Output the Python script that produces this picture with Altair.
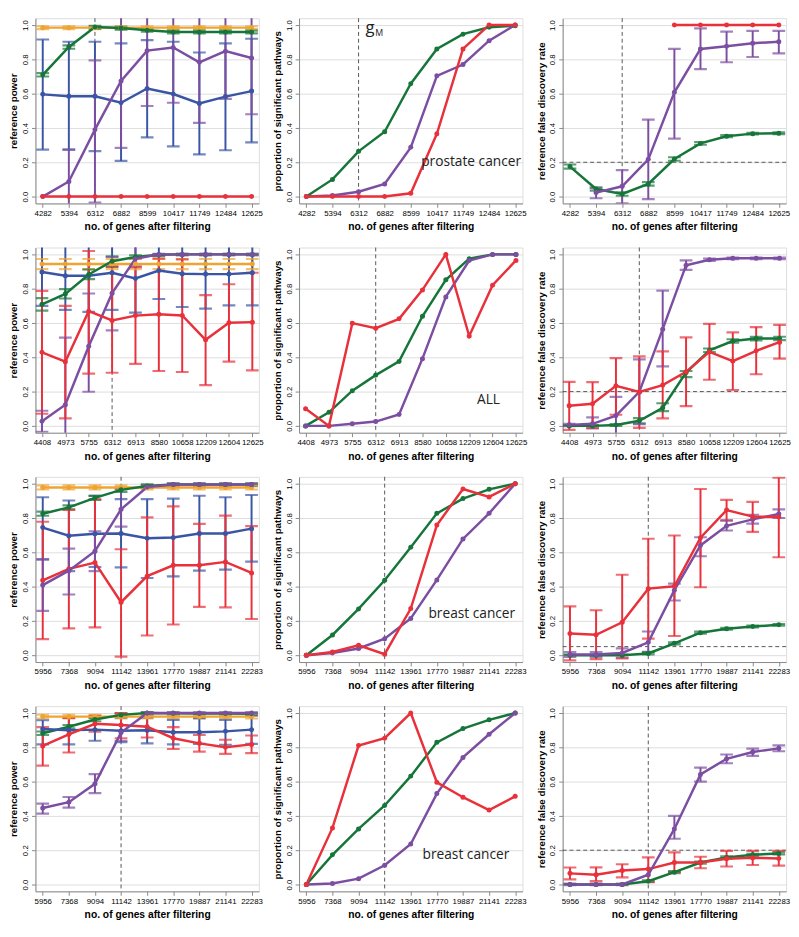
import math
import altair as alt
import pandas as pd

# ---------------- x categories ----------------
x_prostate = ["4282", "5394", "6312", "6882", "8599", "10417", "11749", "12484", "12625"]
x_all = ["4408", "4973", "5755", "6312", "6913", "8580", "10658", "12209", "12604", "12625"]
x_breast = ["5956", "7368", "9094", "11142", "13961", "17770", "19887", "21141", "22283"]
gm_prostate = "6312"
gm_all = "6312"
gm_breast = "11142"

# ---------------- row 1: prostate cancer ----------------
pr_pow_orange = [0.985, 0.985, 0.985, 0.985, 0.985, 0.985, 0.985, 0.985, 0.985]
pr_pow_orange_lo = [0.976, 0.976, 0.976, 0.976, 0.976, 0.976, 0.976, 0.976, 0.976]
pr_pow_orange_hi = [0.993, 0.993, 0.993, 0.993, 0.993, 0.993, 0.993, 0.993, 0.993]
pr_pow_blue = [0.596, 0.585, 0.585, 0.547, 0.630, 0.598, 0.543, 0.583, 0.615]
pr_pow_blue_lo = [0.274, 0.274, 0.265, 0.208, 0.345, 0.293, 0.246, 0.270, 0.316]
pr_pow_blue_hi = [0.916, 0.903, 0.903, 0.893, 0.912, 0.903, 0.840, 0.893, 0.920]
pr_pow_green = [0.710, 0.872, 0.989, 0.983, 0.970, 0.960, 0.960, 0.960, 0.960]
pr_pow_green_lo = [0.700, 0.862, 0.979, 0.973, 0.962, 0.952, 0.952, 0.952, 0.952]
pr_pow_green_hi = [0.720, 0.882, 0.995, 0.990, 0.978, 0.968, 0.968, 0.968, 0.968]
pr_pow_purple = [0.000, 0.088, 0.390, 0.674, 0.851, 0.869, 0.783, 0.848, 0.808]
pr_pow_purple_lo = [None, -0.100, -0.035, 0.284, 0.528, 0.547, 0.430, 0.570, 0.480]
pr_pow_purple_hi = [None, 0.274, 0.794, 1.100, 1.170, 1.190, 1.140, 1.130, 1.140]
pr_pow_red = [0.0, 0.0, 0.0, 0.0, 0.0, 0.0, 0.0, 0.0, 0.0]

pr_sig_green = [0.0, 0.100, 0.264, 0.378, 0.658, 0.861, 0.947, 0.987, 0.996]
pr_sig_purple = [0.0, 0.006, 0.028, 0.074, 0.287, 0.704, 0.770, 0.909, 1.0]
pr_sig_red = [0.0, 0.0, 0.0, 0.0, 0.019, 0.366, 0.861, 1.0, 1.0]

pr_fdr_green = [0.175, 0.044, 0.015, 0.074, 0.219, 0.310, 0.352, 0.367, 0.369]
pr_fdr_green_lo = [0.163, 0.034, 0.005, 0.064, 0.209, 0.302, 0.346, 0.362, 0.364]
pr_fdr_green_hi = [0.187, 0.054, 0.025, 0.084, 0.229, 0.318, 0.358, 0.372, 0.374]
pr_fdr_purple = [None, 0.023, 0.060, 0.217, 0.608, 0.861, 0.876, 0.894, 0.903]
pr_fdr_purple_lo = [None, -0.010, -0.040, -0.015, 0.338, 0.743, 0.783, 0.814, 0.835]
pr_fdr_purple_hi = [None, 0.048, 0.154, 0.449, 0.861, 0.981, 0.962, 0.966, 0.966]
pr_fdr_red = [None, None, None, None, 1.0, 1.0, 1.0, 1.0, 1.0]

# ---------------- row 2: ALL ----------------
al_pow_orange = [0.944, 0.944, 0.944, 0.944, 0.944, 0.944, 0.944, 0.944, 0.944, 0.944]
al_pow_orange_lo = [0.914, 0.914, 0.914, 0.914, 0.914, 0.914, 0.914, 0.914, 0.914, 0.914]
al_pow_orange_hi = [0.973, 0.973, 0.973, 0.973, 0.973, 0.973, 0.973, 0.973, 0.973, 0.973]
al_pow_blue = [0.897, 0.876, 0.876, 0.893, 0.860, 0.906, 0.887, 0.885, 0.885, 0.893]
al_pow_blue_lo = [0.700, 0.676, 0.665, 0.676, 0.660, 0.740, 0.693, 0.684, 0.703, 0.703]
al_pow_blue_hi = [1.090, 1.080, 1.090, 1.110, 1.060, 1.070, 1.080, 1.090, 1.070, 1.080]
al_pow_green = [0.709, 0.770, 0.883, 0.960, 0.985, 0.998, 1.0, 1.0, 1.0, 1.0]
al_pow_green_lo = [0.672, 0.743, 0.856, 0.927, 0.975, 0.990, 0.995, 0.995, 0.995, 0.995]
al_pow_green_hi = [0.745, 0.797, 0.912, 0.988, 0.995, 1.002, 1.003, 1.003, 1.003, 1.003]
al_pow_purple = [0.027, 0.123, 0.464, 0.774, 0.975, 1.0, 1.0, 1.0, 1.0, 1.0]
al_pow_purple_lo = [-0.034, -0.270, 0.199, 0.557, 0.930, 0.995, 0.995, 0.995, 0.995, 0.995]
al_pow_purple_hi = [0.088, 0.515, 0.772, 0.985, 1.050, 1.003, 1.003, 1.003, 1.003, 1.003]
al_pow_red = [0.429, 0.374, 0.669, 0.615, 0.643, 0.651, 0.644, 0.502, 0.601, 0.605]
al_pow_red_lo = [0.071, 0.044, 0.305, 0.310, 0.362, 0.320, 0.314, 0.238, 0.375, 0.324]
al_pow_red_hi = [0.787, 0.700, 1.020, 0.930, 0.925, 0.975, 0.971, 0.762, 0.826, 0.893]

al_sig_green = [0.0, 0.079, 0.205, 0.296, 0.376, 0.639, 0.852, 0.975, 1.0, 1.0]
al_sig_red = [0.100, 0.0, 0.599, 0.570, 0.624, 0.793, 1.0, 0.524, 0.820, 0.965]
al_sig_purple = [0.0, 0.0, 0.012, 0.025, 0.067, 0.392, 0.752, 0.964, 1.0, 1.0]

al_fdr_purple = [0.006, 0.012, 0.060, 0.198, 0.564, 0.937, 0.969, 0.977, 0.977, 0.977]
al_fdr_purple_lo = [-0.002, -0.015, -0.050, 0.010, 0.347, 0.910, 0.962, 0.972, 0.972, 0.972]
al_fdr_purple_hi = [0.012, 0.050, 0.169, 0.388, 0.789, 0.965, 0.976, 0.982, 0.982, 0.982]
al_fdr_green = [0.0, 0.0, 0.005, 0.030, 0.106, 0.311, 0.441, 0.495, 0.509, 0.510]
al_fdr_green_lo = [0.0, 0.0, 0.0, 0.015, 0.086, 0.284, 0.431, 0.485, 0.499, 0.500]
al_fdr_green_hi = [0.005, 0.005, 0.010, 0.045, 0.132, 0.320, 0.451, 0.505, 0.519, 0.520]
al_fdr_red = [0.117, 0.129, 0.234, 0.198, 0.238, 0.315, 0.432, 0.378, 0.438, 0.488]
al_fdr_red_lo = [-0.023, -0.012, 0.065, -0.012, 0.044, 0.115, 0.269, 0.209, 0.301, 0.392]
al_fdr_red_hi = [0.257, 0.255, 0.395, 0.405, 0.434, 0.516, 0.595, 0.545, 0.576, 0.589]

# ---------------- row 3: breast cancer ----------------
b1_pow_orange = [0.978, 0.978, 0.978, 0.978, 0.978, 0.978, 0.978, 0.978, 0.978]
b1_pow_orange_lo = [0.966, 0.966, 0.966, 0.966, 0.966, 0.966, 0.966, 0.966, 0.966]
b1_pow_orange_hi = [0.990, 0.990, 0.990, 0.990, 0.990, 0.990, 0.990, 0.990, 0.990]
b1_pow_blue = [0.744, 0.697, 0.708, 0.710, 0.682, 0.686, 0.710, 0.710, 0.738]
b1_pow_blue_lo = [0.559, 0.490, 0.514, 0.512, 0.450, 0.460, 0.493, 0.499, 0.546]
b1_pow_blue_hi = [0.921, 0.902, 0.930, 0.910, 0.910, 0.913, 0.930, 0.921, 0.934]
b1_pow_green = [0.825, 0.862, 0.917, 0.964, 0.987, 0.995, 0.995, 0.995, 0.995]
b1_pow_green_lo = [0.813, 0.850, 0.905, 0.952, 0.977, 0.985, 0.985, 0.985, 0.985]
b1_pow_green_hi = [0.837, 0.874, 0.929, 0.976, 0.997, 1.002, 1.002, 1.002, 1.002]
b1_pow_purple = [0.409, 0.493, 0.606, 0.851, 0.981, 0.995, 0.995, 0.995, 0.995]
b1_pow_purple_lo = [0.258, 0.354, 0.490, 0.750, 0.975, 0.990, 0.990, 0.990, 0.990]
b1_pow_purple_hi = [0.559, 0.621, 0.723, 0.970, 0.990, 1.000, 1.000, 1.000, 1.000]
b1_pow_red = [0.437, 0.503, 0.540, 0.309, 0.461, 0.524, 0.525, 0.544, 0.480]
b1_pow_red_lo = [0.094, 0.156, 0.162, -0.008, 0.115, 0.179, 0.282, 0.279, 0.211]
b1_pow_red_hi = [0.778, 0.847, 0.910, 0.618, 0.804, 0.868, 0.766, 0.814, 0.753]

b1_sig_green = [0.0, 0.118, 0.270, 0.437, 0.630, 0.827, 0.913, 0.967, 1.0]
b1_sig_red = [0.0, 0.019, 0.058, 0.006, 0.272, 0.759, 0.969, 0.923, 1.0]
b1_sig_purple = [0.0, 0.013, 0.039, 0.096, 0.214, 0.439, 0.678, 0.827, 1.0]

b1_fdr_green = [0.0, 0.0, 0.0, 0.010, 0.069, 0.131, 0.154, 0.167, 0.177]
b1_fdr_green_lo = [0.0, 0.0, 0.0, 0.004, 0.063, 0.125, 0.149, 0.162, 0.172]
b1_fdr_green_hi = [0.004, 0.004, 0.004, 0.016, 0.075, 0.137, 0.159, 0.172, 0.182]
b1_fdr_purple = [0.004, 0.004, 0.013, 0.075, 0.379, 0.640, 0.754, 0.792, 0.823]
b1_fdr_purple_lo = [-0.010, -0.010, -0.015, 0.019, 0.319, 0.577, 0.727, 0.767, 0.800]
b1_fdr_purple_hi = [0.018, 0.018, 0.040, 0.138, 0.417, 0.688, 0.787, 0.819, 0.850]
b1_fdr_red = [0.127, 0.119, 0.192, 0.388, 0.402, 0.685, 0.846, 0.808, 0.806]
b1_fdr_red_lo = [-0.030, -0.023, -0.019, 0.097, 0.112, 0.396, 0.785, 0.719, 0.571]
b1_fdr_red_hi = [0.285, 0.262, 0.469, 0.679, 0.698, 0.969, 0.906, 0.894, 1.035]

# ---------------- row 4: breast cancer (second data set) ----------------
b2_pow_orange = [0.979, 0.979, 0.979, 0.979, 0.979, 0.979, 0.979, 0.979, 0.979]
b2_pow_orange_lo = [0.968, 0.968, 0.968, 0.968, 0.968, 0.968, 0.968, 0.968, 0.968]
b2_pow_orange_hi = [0.990, 0.990, 0.990, 0.990, 0.990, 0.990, 0.990, 0.990, 0.990]
b2_pow_blue = [0.907, 0.900, 0.903, 0.897, 0.899, 0.888, 0.888, 0.893, 0.903]
b2_pow_blue_lo = [0.817, 0.817, 0.838, 0.830, 0.823, 0.817, 0.820, 0.815, 0.820]
b2_pow_blue_hi = [0.958, 0.975, 0.980, 0.975, 0.975, 0.960, 0.970, 0.960, 0.985]
b2_pow_green = [0.882, 0.920, 0.962, 0.989, 1.0, 0.998, 0.997, 0.997, 0.996]
b2_pow_green_lo = [0.872, 0.910, 0.952, 0.980, 0.993, 0.991, 0.990, 0.990, 0.989]
b2_pow_green_hi = [0.892, 0.930, 0.972, 0.998, 1.005, 1.004, 1.003, 1.003, 1.003]
b2_pow_red = [0.808, 0.876, 0.937, 0.930, 0.920, 0.853, 0.823, 0.800, 0.817]
b2_pow_red_lo = [0.693, 0.770, 0.891, 0.853, 0.857, 0.790, 0.775, 0.762, 0.766]
b2_pow_red_hi = [0.918, 0.971, 0.983, 1.000, 0.981, 0.918, 0.872, 0.844, 0.869]
b2_pow_purple = [0.446, 0.480, 0.587, 0.886, 1.0, 1.0, 1.0, 1.0, 1.0]
b2_pow_purple_lo = [0.413, 0.448, 0.533, 0.838, 0.995, 0.995, 0.995, 0.995, 0.995]
b2_pow_purple_hi = [0.472, 0.510, 0.644, 0.930, 1.003, 1.003, 1.003, 1.003, 1.003]

b2_sig_red = [0.0, 0.330, 0.810, 0.853, 1.0, 0.596, 0.509, 0.434, 0.514]
b2_sig_green = [0.0, 0.173, 0.324, 0.461, 0.632, 0.829, 0.909, 0.960, 1.0]
b2_sig_purple = [0.0, 0.006, 0.034, 0.112, 0.236, 0.530, 0.741, 0.876, 1.0]

b2_fdr_green = [0.0, 0.0, 0.0, 0.019, 0.072, 0.128, 0.158, 0.173, 0.181]
b2_fdr_green_lo = [0.0, 0.0, 0.0, 0.013, 0.066, 0.122, 0.152, 0.167, 0.175]
b2_fdr_green_hi = [0.004, 0.004, 0.004, 0.025, 0.078, 0.134, 0.164, 0.179, 0.187]
b2_fdr_purple = [0.0, 0.0, 0.0, 0.057, 0.324, 0.642, 0.733, 0.773, 0.794]
b2_fdr_purple_lo = [-0.004, -0.004, -0.004, None, 0.267, 0.600, 0.707, 0.750, 0.777]
b2_fdr_purple_hi = [0.004, 0.004, 0.004, None, 0.400, 0.682, 0.758, 0.792, 0.811]
b2_fdr_red = [0.065, 0.057, 0.082, 0.090, 0.128, 0.128, 0.150, 0.156, 0.152]
b2_fdr_red_lo = [0.030, 0.020, 0.042, 0.015, 0.072, 0.095, 0.105, 0.114, 0.110]
b2_fdr_red_hi = [0.099, 0.100, 0.118, 0.158, 0.187, 0.162, 0.196, 0.196, 0.196]

# ---------------- styling ----------------
COLORS = {"orange": "#EFA430", "blue": "#3A55A4", "green": "#16763A",
          "purple": "#7C4EA1", "red": "#E8313B"}
FONT = "Liberation Sans"
PW, PH = 228, 189
NAN = float("nan")


def _v(lst, i):
    if lst is None:
        return NAN
    v = lst[i]
    return NAN if v is None else v


def panel(xcats, series, ytitle, gm, hline=None, notes=()):
    rows = []
    for name, mean, lo, hi in series:
        for i, xc in enumerate(xcats):
            rows.append({"x": xc, "i": i, "s": name, "m": _v(mean, i),
                         "lo": _v(lo, i), "hi": _v(hi, i)})
    df = pd.DataFrame(rows)

    xs = alt.Scale(type="point", domain=xcats, padding=0.28)
    ys = alt.Scale(domain=[-0.04, 1.04], nice=False, zero=False)
    xax = alt.Axis(title="no. of genes after filtering", labelAngle=0, labelFontSize=8,
                   tickSize=4, labelPadding=2, titleFontSize=10.5, titleFontWeight="bold",
                   titlePadding=5, labelOverlap=False)
    yax = alt.Axis(title=ytitle, values=[0, 0.2, 0.4, 0.6, 0.8, 1.0], format=".1f",
                   labelAngle=270, labelAlign="center", labelBaseline="bottom",
                   labelFontSize=8, tickSize=4, labelPadding=2, titleFontSize=10,
                   titleFontWeight="bold", titlePadding=3)
    X = alt.X("x:N", scale=xs, axis=xax)
    C = alt.Color("s:N", scale=alt.Scale(domain=list(COLORS.keys()),
                                         range=list(COLORS.values())), legend=None)

    layers = []
    layers.append(alt.Chart(pd.DataFrame({"x": [gm]})).mark_rule(
        strokeDash=[4, 3], color="#555555", strokeWidth=1).encode(x=X))
    if hline is not None:
        layers.append(alt.Chart(pd.DataFrame({"y": [hline]})).mark_rule(
            strokeDash=[4, 3], color="#555555", strokeWidth=1).encode(
            y=alt.Y("y:Q", scale=ys, axis=yax)))
    err = alt.Chart(df).transform_filter("isValid(datum.lo) && isFinite(datum.lo)")
    layers.append(err.mark_rule(strokeWidth=2, clip=True).encode(
        x=X, y=alt.Y("lo:Q", scale=ys, axis=yax), y2="hi:Q", color=C))
    for f in ("lo", "hi"):
        layers.append(err.mark_tick(orient="horizontal", size=13, thickness=2.2, clip=True).encode(
            x=X, y=alt.Y(f + ":Q", scale=ys, axis=yax), color=C))
    base = alt.Chart(df).transform_filter("isValid(datum.m) && isFinite(datum.m)")
    layers.append(base.mark_line(strokeWidth=2.5, clip=True).encode(
        x=X, y=alt.Y("m:Q", scale=ys, axis=yax), color=C, detail="s:N",
        order=alt.Order("i:Q")))
    layers.append(base.mark_circle(size=26, opacity=1, clip=True).encode(
        x=X, y=alt.Y("m:Q", scale=ys, axis=yax), color=C))
    for (nx, ny, txt, size, align, dx, dy, bl) in notes:
        layers.append(alt.Chart(pd.DataFrame({"x": [nx], "y": [ny], "t": [txt]})).mark_text(
            font="Open Sans", fontSize=size, align=align, baseline=bl, dx=dx, dy=dy,
            color="#222222").encode(x=X, y=alt.Y("y:Q", scale=ys, axis=yax), text="t:N"))
    return alt.layer(*layers).properties(width=PW, height=PH)


def S(name, mean, lo=None, hi=None):
    return (name, mean, lo, hi)


row1 = alt.hconcat(
    panel(x_prostate, [S("orange", pr_pow_orange, pr_pow_orange_lo, pr_pow_orange_hi),
                       S("green", pr_pow_green, pr_pow_green_lo, pr_pow_green_hi),
                       S("blue", pr_pow_blue, pr_pow_blue_lo, pr_pow_blue_hi),
                       S("purple", pr_pow_purple, pr_pow_purple_lo, pr_pow_purple_hi),
                       S("red", pr_pow_red)],
          "reference power", gm_prostate),
    panel(x_prostate, [S("green", pr_sig_green), S("purple", pr_sig_purple), S("red", pr_sig_red)],
          "proportion of significant pathways", gm_prostate,
          notes=[("6312", 1.028, "g", 17, "left", 7, 0, "top"),
                 ("6312", 0.977, "M", 9, "left", 17, 0, "top"),
                 ("12625", 0.2, "prostate cancer", 14, "right", 6, 0, "middle")]),
    panel(x_prostate, [S("green", pr_fdr_green, pr_fdr_green_lo, pr_fdr_green_hi),
                       S("purple", pr_fdr_purple, pr_fdr_purple_lo, pr_fdr_purple_hi),
                       S("red", pr_fdr_red)],
          "reference false discovery rate", gm_prostate, hline=0.2),
    spacing=8)

row2 = alt.hconcat(
    panel(x_all, [S("orange", al_pow_orange, al_pow_orange_lo, al_pow_orange_hi),
                  S("blue", al_pow_blue, al_pow_blue_lo, al_pow_blue_hi),
                  S("green", al_pow_green, al_pow_green_lo, al_pow_green_hi),
                  S("purple", al_pow_purple, al_pow_purple_lo, al_pow_purple_hi),
                  S("red", al_pow_red, al_pow_red_lo, al_pow_red_hi)],
          "reference power", gm_all),
    panel(x_all, [S("green", al_sig_green), S("purple", al_sig_purple), S("red", al_sig_red)],
          "proportion of significant pathways", gm_all,
          notes=[("12209", 0.15, "ALL", 14, "left", 8, 0, "middle")]),
    panel(x_all, [S("green", al_fdr_green, al_fdr_green_lo, al_fdr_green_hi),
                  S("purple", al_fdr_purple, al_fdr_purple_lo, al_fdr_purple_hi),
                  S("red", al_fdr_red, al_fdr_red_lo, al_fdr_red_hi)],
          "reference false discovery rate", gm_all, hline=0.2),
    spacing=8)

row3 = alt.hconcat(
    panel(x_breast, [S("orange", b1_pow_orange, b1_pow_orange_lo, b1_pow_orange_hi),
                     S("blue", b1_pow_blue, b1_pow_blue_lo, b1_pow_blue_hi),
                     S("green", b1_pow_green, b1_pow_green_lo, b1_pow_green_hi),
                     S("red", b1_pow_red, b1_pow_red_lo, b1_pow_red_hi),
                     S("purple", b1_pow_purple, b1_pow_purple_lo, b1_pow_purple_hi)],
          "reference power", gm_breast),
    panel(x_breast, [S("green", b1_sig_green), S("purple", b1_sig_purple), S("red", b1_sig_red)],
          "proportion of significant pathways", gm_breast,
          notes=[("22283", 0.24, "breast cancer", 14, "right", 0, 0, "middle")]),
    panel(x_breast, [S("green", b1_fdr_green, b1_fdr_green_lo, b1_fdr_green_hi),
                     S("purple", b1_fdr_purple, b1_fdr_purple_lo, b1_fdr_purple_hi),
                     S("red", b1_fdr_red, b1_fdr_red_lo, b1_fdr_red_hi)],
          "reference false discovery rate", gm_breast, hline=0.05),
    spacing=8)

row4 = alt.hconcat(
    panel(x_breast, [S("orange", b2_pow_orange, b2_pow_orange_lo, b2_pow_orange_hi),
                     S("green", b2_pow_green, b2_pow_green_lo, b2_pow_green_hi),
                     S("blue", b2_pow_blue, b2_pow_blue_lo, b2_pow_blue_hi),
                     S("red", b2_pow_red, b2_pow_red_lo, b2_pow_red_hi),
                     S("purple", b2_pow_purple, b2_pow_purple_lo, b2_pow_purple_hi)],
          "reference power", gm_breast),
    panel(x_breast, [S("green", b2_sig_green), S("purple", b2_sig_purple), S("red", b2_sig_red)],
          "proportion of significant pathways", gm_breast,
          notes=[("22283", 0.17, "breast cancer", 14, "right", -6, 0, "middle")]),
    panel(x_breast, [S("green", b2_fdr_green, b2_fdr_green_lo, b2_fdr_green_hi),
                     S("red", b2_fdr_red, b2_fdr_red_lo, b2_fdr_red_hi),
                     S("purple", b2_fdr_purple, b2_fdr_purple_lo, b2_fdr_purple_hi)],
          "reference false discovery rate", gm_breast, hline=0.2),
    spacing=8)

chart = alt.vconcat(row1, row2, row3, row4, spacing=14).properties(
    padding={"left": 0, "top": 0, "right": 0, "bottom": 0}
).configure_view(stroke="#444444", strokeWidth=1).configure_axis(
    domain=False, grid=False, tickColor="#444444", labelColor="#333333",
    titleColor="#111111", labelFont=FONT, titleFont=FONT
).configure(background="white")

chart.save("out.html", embed_options={"renderer": "svg", "actions": False})
